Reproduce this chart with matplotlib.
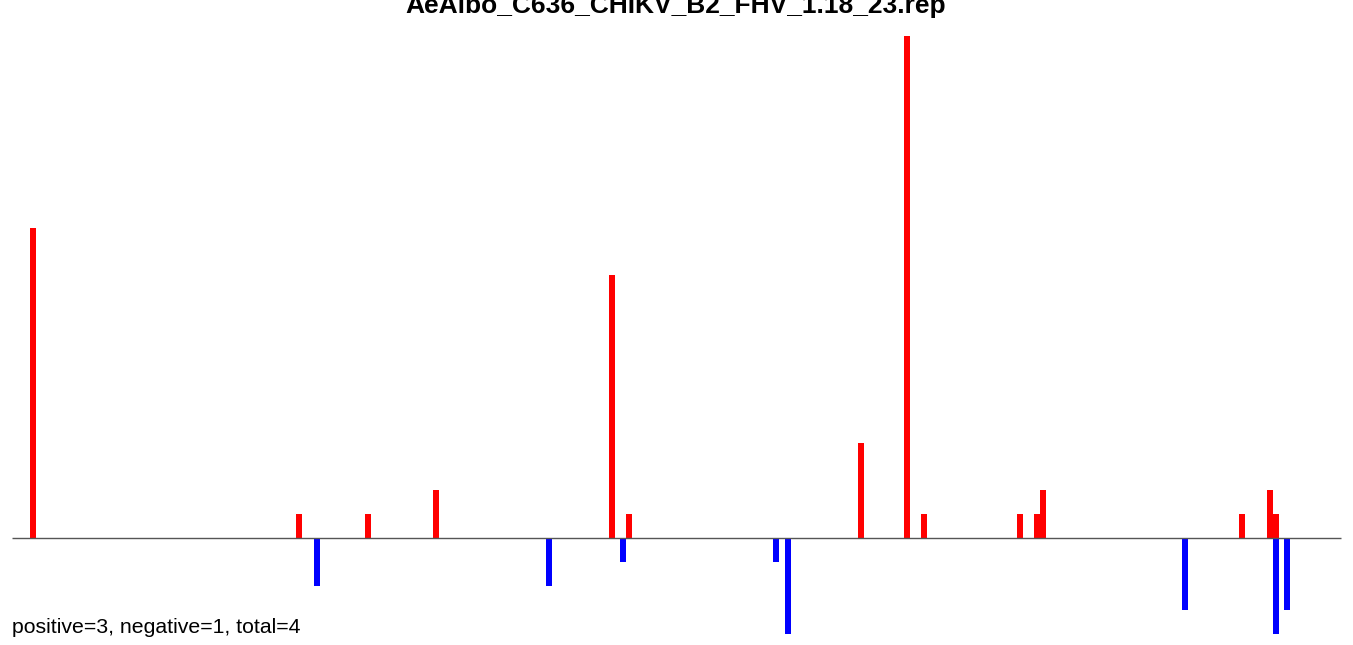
import matplotlib
matplotlib.use("Agg")
import matplotlib.pyplot as plt

plt.rcParams['font.family'] = ['Liberation Sans', 'DejaVu Sans']

title = "AeAlbo_C636_CHIKV_B2_FHV_1.18_23.rep"
summary = "positive=3, negative=1, total=4"

# genome positions (nt) and read counts
pos_positions = [189, 2583, 3204, 3816, 5400, 5553, 7641, 8055, 8208,
                 9072, 9225, 9279, 11070, 11322, 11376]
pos_counts = [13, 1, 1, 2, 11, 1, 4, 21, 1, 1, 1, 2, 1, 2, 1]

neg_positions = [2745, 4833, 5499, 6876, 6984, 10557, 11376, 11475]
neg_counts = [-2, -2, -1, -1, -4, -3, -4, -3]

genome_start = 0
genome_end = 11961

fig = plt.figure(figsize=(13.53, 6.45), dpi=100)
ax = fig.add_axes([0, 0, 1, 1])
ax.set_axis_off()

ax.bar(pos_positions, pos_counts, width=54, color='#FF0000', linewidth=0, align='center', zorder=2)
ax.bar(neg_positions, neg_counts, width=54, color='#0000FF', linewidth=0, align='center', zorder=2)
ax.hlines(0, genome_start, genome_end, color='#555555', linewidth=1.0, zorder=3)

ax.set_xlim(-108, 12069)
ax.set_ylim(-4.465, 22.52)

fig.text(676 / 1353, 1 - 12.5 / 645, title, ha='center', va='baseline',
         fontsize=19, fontweight='bold')
fig.text(12 / 1353, 1 - 633.3 / 645, summary, ha='left', va='baseline',
         fontsize=15.3)

fig.savefig("out.png", dpi=100)
